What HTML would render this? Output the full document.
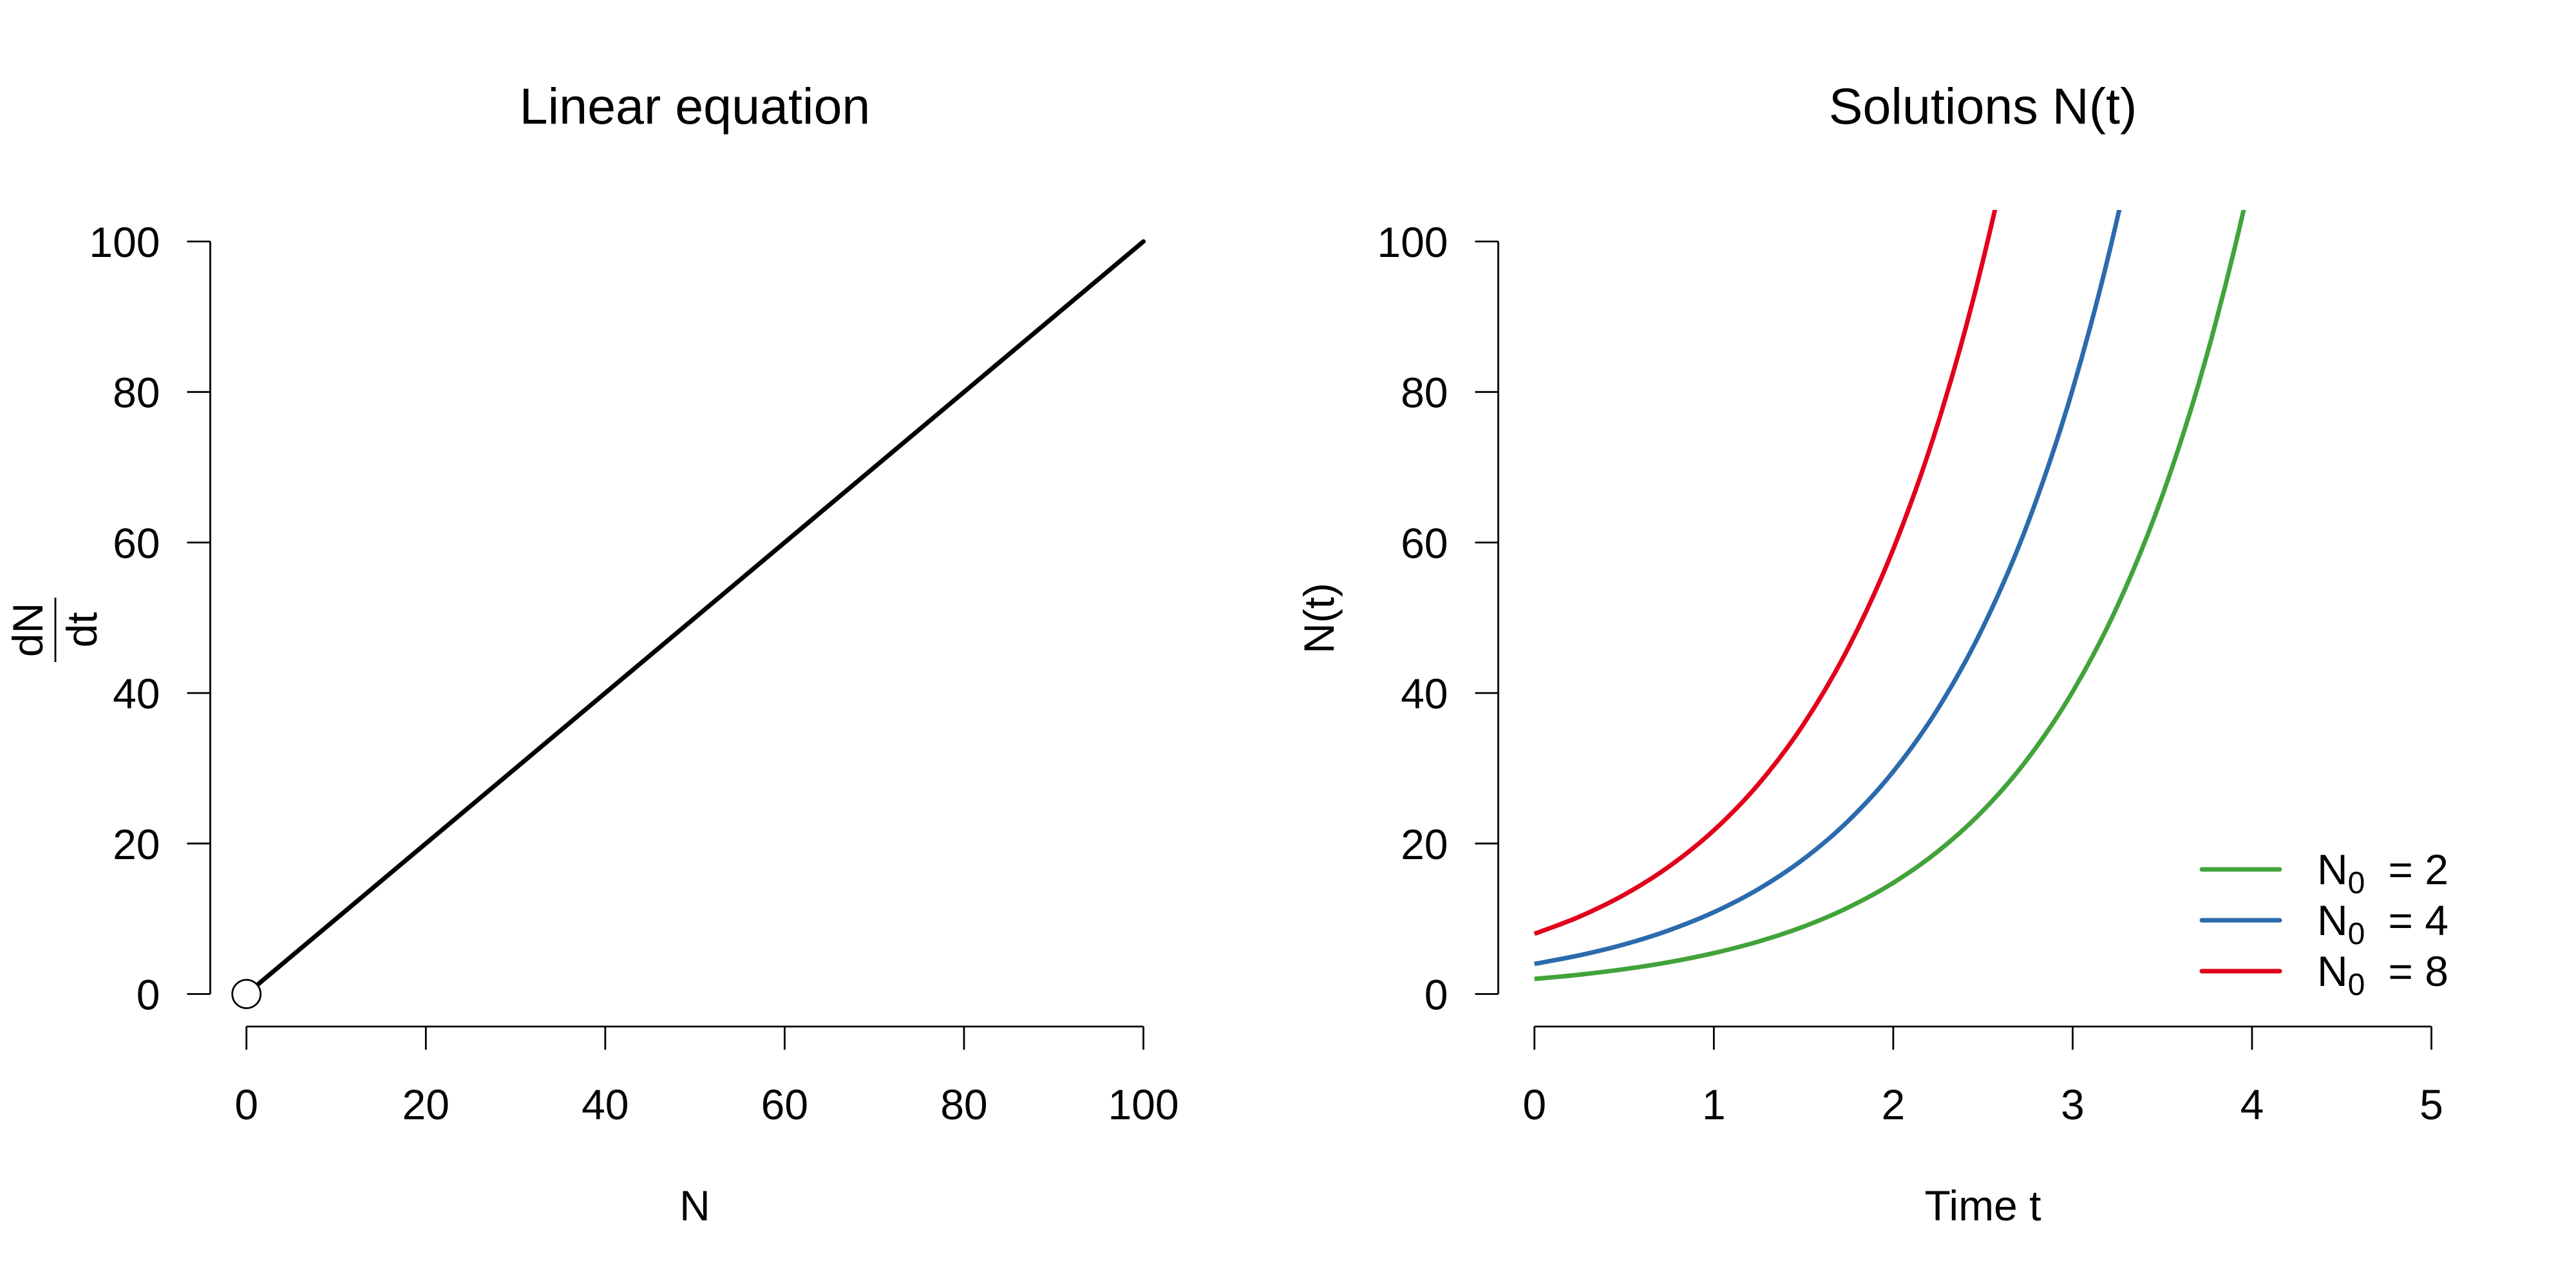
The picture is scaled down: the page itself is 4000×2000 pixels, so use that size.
<!DOCTYPE html>
<html><head><meta charset="utf-8"><style>
html,body{margin:0;padding:0;background:#fff;}
svg{display:block;font-family:"Liberation Sans",Arial,sans-serif;}
</style></head><body>
<svg id="chart" width="4000" height="2000" viewBox="0 0 4000 2000" xmlns="http://www.w3.org/2000/svg">
<defs><clipPath id="clipR"><rect x="2326" y="326" width="1500" height="1270"/></clipPath></defs>
<g id="left"></g>
<g id="right"></g>
</svg>
<script>
// Left panel data
const linN = [0, 100];
const linRate = [0, 100];
const leftXTicks = [0, 20, 40, 60, 80, 100];
const leftYTicks = [0, 20, 40, 60, 80, 100];
const eqPointN = [0];
const eqPointRate = [0];
// Right panel data
const times = [0,0.25,0.5,0.75,1,1.25,1.5,1.75,2,2.25,2.5,2.75,3,3.25,3.5,3.75,4,4.25];
const seriesN2 = [2,2.57,3.30,4.23,5.44,6.98,8.96,11.51,14.78,18.98,24.36,31.28,40.17,51.58,66.23,85.05,109.2,140.2];
const seriesN4 = [4,5.14,6.59,8.47,10.87,13.96,17.93,23.02,29.56,37.95,48.73,62.56,80.34,103.2,132.5,170.1,218.4,280.4];
const seriesN8 = [8,10.27,13.19,16.94,21.75,27.92,35.85,46.03,59.11,75.90,97.45,125.1,160.7,206.3,264.9,340.2,436.8,560.8];
const legendLabels = ["2","4","8"];
const rightXTicks = [0,1,2,3,4,5];
const rightYTicks = [0,20,40,60,80,100];

const NS="http://www.w3.org/2000/svg";
function mk(parent, tag, attrs, text){
  const e=document.createElementNS(NS,tag);
  for(const k in attrs) e.setAttribute(k,attrs[k]);
  if(text!==undefined) e.textContent=text;
  parent.appendChild(e); return e;
}
const FS=66;
function panel(g, x0px, x1px, xmin, xmax, xticks, yticks, axisX, title, titleCx){
  const sx=v=>x0px+(v-xmin)/(xmax-xmin)*(x1px-x0px);
  const sy=v=>1543.5-(v/100)*(1543.5-375);
  let a=mk(g,'line',{x1:axisX,x2:axisX,y1:sy(0),y2:sy(100),stroke:'#000','stroke-width':2.8});
   
  yticks.forEach(v=>{
    let t=mk(g,'line',{x1:axisX,x2:axisX-36,y1:sy(v),y2:sy(v),stroke:'#000','stroke-width':2.8});
     
    let l=mk(g,'text',{x:axisX-78,y:sy(v)+24,'text-anchor':'end','font-size':FS},String(v));
     
  });
  let b=mk(g,'line',{x1:sx(xticks[0]),x2:sx(xticks[xticks.length-1]),y1:1594,y2:1594,stroke:'#000','stroke-width':2.8});
   
  xticks.forEach(v=>{
    let t=mk(g,'line',{x1:sx(v),x2:sx(v),y1:1594,y2:1630,stroke:'#000','stroke-width':2.8});
     
    let l=mk(g,'text',{x:sx(v),y:1738,'text-anchor':'middle','font-size':FS},String(v));
     
  });
  let tt=mk(g,'text',{x:titleCx,y:192,'text-anchor':'middle','font-size':79},title);
   
  return {sx,sy};
}
// Left
const gL=document.getElementById('left');
const L=panel(gL,382.7,1775.5,0,100,leftXTicks,leftYTicks,326.5,'Linear equation',1079);
let xl=mk(gL,'text',{x:1079,y:1895,'text-anchor':'middle','font-size':FS},'N');
 
const yl=mk(gL,'g',{transform:'translate(112,978) rotate(-90)'});
 
mk(yl,'text',{x:0,y:-46,'text-anchor':'middle','font-size':FS},'dN');
mk(yl,'line',{x1:-50,x2:50,y1:-26,y2:-26,stroke:'#000','stroke-width':2.8});
mk(yl,'text',{x:0,y:38,'text-anchor':'middle','font-size':FS},'dt');
let ln=mk(gL,'line',{x1:L.sx(linN[0]),y1:L.sy(linRate[0]),x2:L.sx(linN[1]),y2:L.sy(linRate[1]),stroke:'#000','stroke-width':7,'stroke-linecap':'round'});
 
eqPointN.forEach((n,i)=>{
  let c=mk(gL,'circle',{cx:L.sx(n),cy:L.sy(eqPointRate[i]),r:22,fill:'#fff',stroke:'#000','stroke-width':2.8});
   
});
// Right
const gR=document.getElementById('right');
const R=panel(gR,2382.7,3775.5,0,5,rightXTicks,rightYTicks,2326.5,'Solutions N(t)',3079);
let xr=mk(gR,'text',{x:3079,y:1895,'text-anchor':'middle','font-size':FS},'Time t');
 
let yr=mk(gR,'text',{x:0,y:0,'text-anchor':'middle','font-size':FS,transform:'translate(2071,960) rotate(-90)'},'N(t)');
 
const cols=['#41a33a','#2b6aad','#e2001a'];
const series=[seriesN2,seriesN4,seriesN8];
const names=['curve-n0-2','curve-n0-4','curve-n0-8'];
series.forEach((s,k)=>{
  const pts=times.map((t,i)=>[R.sx(t),R.sy(s[i])]);
  let d='M'+pts[0][0]+','+pts[0][1];
  for(let i=0;i<pts.length-1;i++){
    const p0=pts[Math.max(0,i-1)],p1=pts[i],p2=pts[i+1],p3=pts[Math.min(pts.length-1,i+2)];
    const c1=[p1[0]+(p2[0]-p0[0])/6,p1[1]+(p2[1]-p0[1])/6];
    const c2=[p2[0]-(p3[0]-p1[0])/6,p2[1]-(p3[1]-p1[1])/6];
    d+=' C'+c1[0]+','+c1[1]+' '+c2[0]+','+c2[1]+' '+p2[0]+','+p2[1];
  }
  let p=mk(gR,'path',{d:d,fill:'none',stroke:cols[k],'stroke-width':7,'clip-path':'url(#clipR)'});
   
});
const lg=mk(gR,'g',{});
 
legendLabels.forEach((lab,i)=>{
  const y=1350+i*79;
  const e=mk(lg,'g',{});
   
  mk(e,'line',{x1:3419,x2:3540,y1:y,y2:y,stroke:cols[i],'stroke-width':7,'stroke-linecap':'round'});
  const t=mk(e,'text',{x:3598,y:y+23,'font-size':FS});
  t.setAttribute('xml:space','preserve');
  mk(t,'tspan',{},'N');
  mk(t,'tspan',{'font-size':48,dy:14},'0');
  mk(t,'tspan',{dy:-14,dx:36},'= '+lab);
});
</script>
</body></html>
